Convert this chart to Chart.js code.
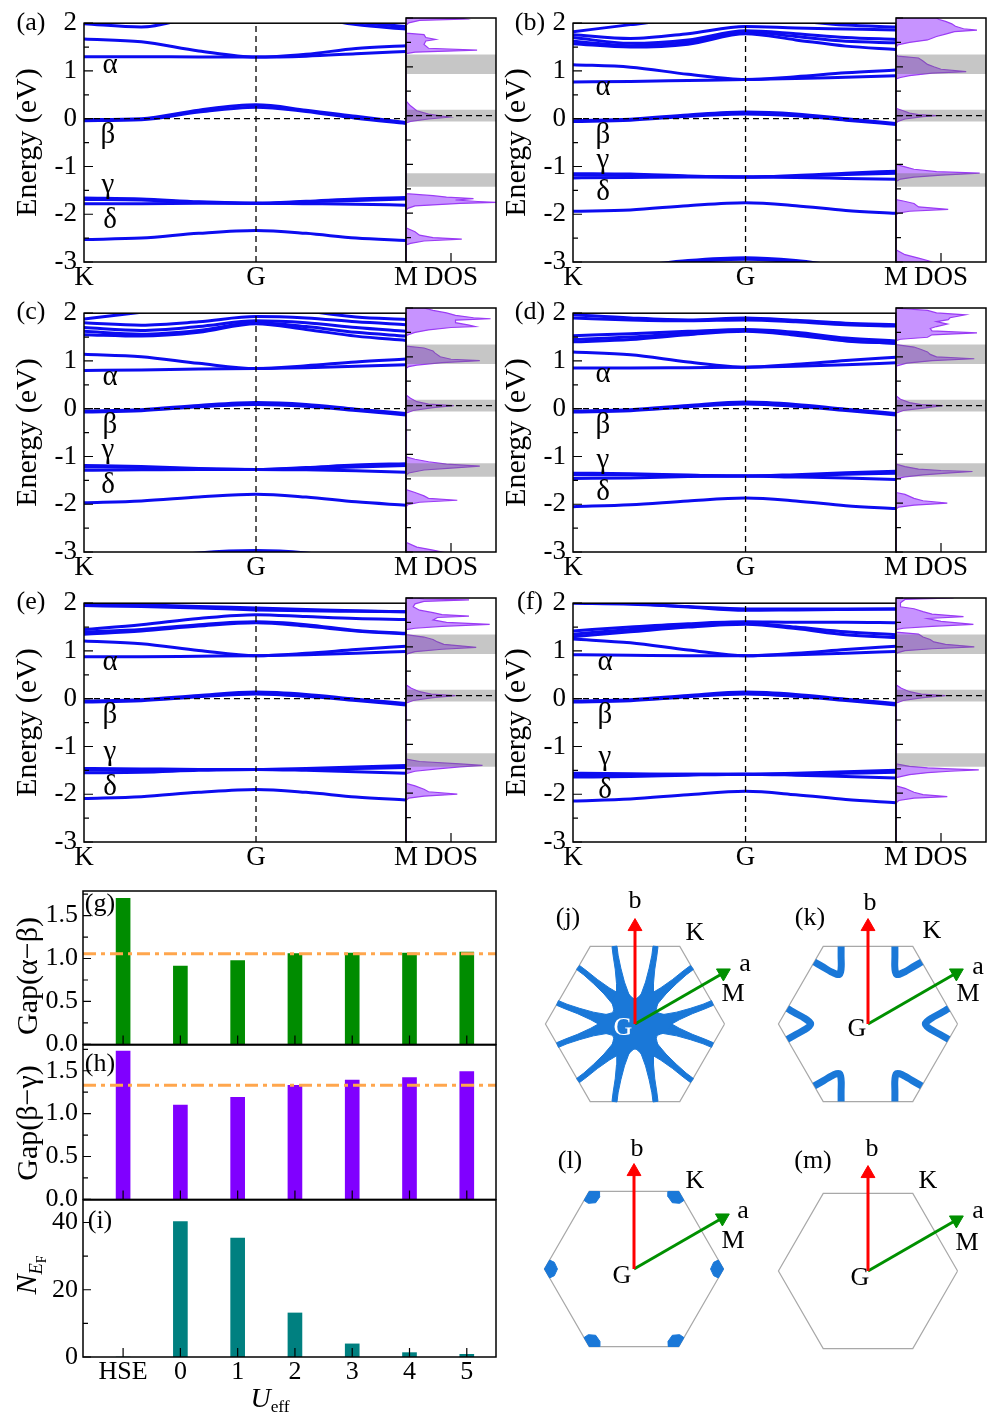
<!DOCTYPE html>
<html>
<head>
<meta charset="utf-8">
<title>Bands, DOS, gaps and Fermi surfaces vs U_eff</title>
<script src="https://cdn.jsdelivr.net/npm/chart.js@4.4.1/dist/chart.umd.min.js"></script>
<style>
  body { margin: 0; width: 996px; height: 1422px; position: relative; overflow: hidden; background: #fff;
         font-family: "Liberation Serif", "Times New Roman", serif; color: #000; }
  canvas { position: absolute; }
  .t { position: absolute; transform: translate(-50%, -50%); line-height: 1; white-space: nowrap; }
  .rot { transform: translate(-50%, -50%) rotate(-90deg); }
  sub { font-size: 0.62em; vertical-align: -0.3em; line-height: 0; }
</style>
</head>
<body>
<script>
// ---------- band structure data (eV) along K - G - M ----------
const kPath = [0, 0.333, 0.667, 1, 1.291, 1.581, 1.872]
const kTicks = [0, 1, 1.872]
const kLabels = ['K', 'G', 'M']
const eTicks = [-3, -2, -1, 0, 1, 2]
const eMinor = [-2.5, -1.5, -0.5, 0.5, 1.5]

const bandsA = [
  [1.99, 1.92, 2.15, 2.3, 2.15, 1.97, 1.88],
  [2.02, 2.05, 2.2, 2.35, 2.2, 2.02, 1.93],
  [1.67, 1.61, 1.42, 1.29, 1.35, 1.47, 1.53],
  [1.30, 1.30, 1.29, 1.29, 1.31, 1.36, 1.41],
  [-0.02, 0.0, 0.18, 0.29, 0.18, 0.05, -0.08],
  [-0.04, -0.02, 0.14, 0.24, 0.15, 0.01, -0.10],
  [-1.66, -1.68, -1.74, -1.77, -1.73, -1.68, -1.65],
  [-1.69, -1.70, -1.75, -1.77, -1.74, -1.71, -1.68],
  [-1.78, -1.78, -1.77, -1.77, -1.78, -1.79, -1.81],
  [-2.53, -2.50, -2.40, -2.34, -2.40, -2.50, -2.55]
]
const bandsB = [
  [1.82, 1.97, 2.1, 2.15, 2.05, 1.96, 1.92],
  [1.76, 1.68, 1.78, 1.93, 1.90, 1.88, 1.86],
  [1.70, 1.58, 1.65, 1.84, 1.78, 1.70, 1.66],
  [1.62, 1.53, 1.60, 1.82, 1.72, 1.62, 1.59],
  [1.57, 1.50, 1.56, 1.78, 1.65, 1.52, 1.45],
  [1.13, 1.08, 0.93, 0.82, 0.88, 0.96, 1.02],
  [0.77, 0.78, 0.80, 0.82, 0.84, 0.87, 0.90],
  [-0.04, -0.01, 0.08, 0.14, 0.10, 0.0, -0.10],
  [-0.06, -0.03, 0.05, 0.10, 0.06, -0.03, -0.12],
  [-1.15, -1.16, -1.20, -1.22, -1.19, -1.14, -1.10],
  [-1.18, -1.18, -1.21, -1.22, -1.20, -1.17, -1.14],
  [-1.24, -1.23, -1.22, -1.22, -1.23, -1.25, -1.27],
  [-1.94, -1.91, -1.82, -1.76, -1.82, -1.92, -1.98],
  [-3.2, -3.1, -2.97, -2.91, -2.97, -3.1, -3.2],
  [-3.25, -3.12, -3.0, -2.94, -3.0, -3.12, -3.25]
]
const bandsC = [
  [1.88, 2.02, 2.15, 2.2, 2.05, 1.92, 1.87],
  [1.80, 1.75, 1.82, 1.93, 1.90, 1.82, 1.76],
  [1.70, 1.64, 1.72, 1.84, 1.80, 1.70, 1.62],
  [1.62, 1.56, 1.64, 1.80, 1.72, 1.60, 1.52],
  [1.55, 1.52, 1.60, 1.78, 1.66, 1.52, 1.43],
  [1.14, 1.09, 0.95, 0.84, 0.90, 0.98, 1.04],
  [0.80, 0.81, 0.83, 0.84, 0.86, 0.89, 0.92],
  [-0.05, -0.02, 0.07, 0.13, 0.09, -0.01, -0.10],
  [-0.07, -0.04, 0.04, 0.09, 0.05, -0.04, -0.13],
  [-1.19, -1.21, -1.25, -1.27, -1.23, -1.18, -1.15],
  [-1.22, -1.23, -1.26, -1.27, -1.25, -1.22, -1.19],
  [-1.29, -1.28, -1.27, -1.27, -1.28, -1.30, -1.33],
  [-1.97, -1.93, -1.85, -1.79, -1.85, -1.95, -2.02],
  [-3.3, -3.15, -3.02, -2.97, -3.02, -3.15, -3.3]
]
const bandsD = [
  [1.97, 1.90, 1.86, 1.90, 1.85, 1.79, 1.76],
  [1.90, 1.86, 1.84, 1.86, 1.82, 1.76, 1.73],
  [1.53, 1.57, 1.62, 1.66, 1.60, 1.48, 1.42],
  [1.45, 1.50, 1.58, 1.64, 1.56, 1.43, 1.37],
  [1.40, 1.45, 1.55, 1.62, 1.54, 1.42, 1.37],
  [1.19, 1.13, 0.98, 0.87, 0.93, 1.01, 1.08],
  [0.85, 0.85, 0.86, 0.87, 0.89, 0.92, 0.96],
  [-0.05, -0.02, 0.07, 0.14, 0.09, -0.01, -0.10],
  [-0.07, -0.04, 0.04, 0.10, 0.05, -0.04, -0.13],
  [-1.35, -1.36, -1.39, -1.41, -1.38, -1.34, -1.31],
  [-1.38, -1.38, -1.40, -1.41, -1.40, -1.37, -1.35],
  [-1.46, -1.45, -1.42, -1.41, -1.43, -1.45, -1.48],
  [-2.05, -2.01, -1.93, -1.87, -1.93, -2.03, -2.09]
]
const bandsE = [
  [1.99, 1.97, 1.93, 1.90, 1.87, 1.84, 1.82],
  [1.95, 1.93, 1.90, 1.86, 1.84, 1.83, 1.82],
  [1.45, 1.55, 1.68, 1.76, 1.72, 1.68, 1.66],
  [1.40, 1.45, 1.55, 1.61, 1.55, 1.43, 1.37],
  [1.35, 1.42, 1.52, 1.59, 1.52, 1.42, 1.36],
  [1.21, 1.15, 1.01, 0.90, 0.95, 1.03, 1.10],
  [0.88, 0.88, 0.89, 0.90, 0.92, 0.95, 0.99],
  [-0.05, -0.02, 0.07, 0.14, 0.09, -0.01, -0.10],
  [-0.07, -0.04, 0.04, 0.10, 0.05, -0.04, -0.13],
  [-1.46, -1.47, -1.48, -1.48, -1.46, -1.43, -1.40],
  [-1.49, -1.49, -1.48, -1.48, -1.48, -1.46, -1.44],
  [-1.55, -1.54, -1.50, -1.48, -1.50, -1.53, -1.56],
  [-2.09, -2.05, -1.96, -1.90, -1.96, -2.06, -2.12]
]
const bandsF = [
  [2.0, 1.98, 1.93, 1.88, 1.88, 1.88, 1.88],
  [2.05, 2.0, 1.92, 1.85, 1.86, 1.87, 1.88],
  [1.42, 1.50, 1.57, 1.61, 1.60, 1.60, 1.59],
  [1.35, 1.45, 1.53, 1.58, 1.50, 1.40, 1.34],
  [1.30, 1.40, 1.50, 1.56, 1.47, 1.34, 1.28],
  [1.25, 1.17, 1.02, 0.90, 0.95, 1.03, 1.10],
  [0.92, 0.91, 0.90, 0.90, 0.92, 0.95, 0.99],
  [-0.05, -0.02, 0.07, 0.14, 0.09, -0.01, -0.10],
  [-0.07, -0.04, 0.04, 0.10, 0.05, -0.04, -0.13],
  [-1.56, -1.57, -1.58, -1.58, -1.56, -1.53, -1.50],
  [-1.59, -1.59, -1.58, -1.58, -1.58, -1.56, -1.54],
  [-1.64, -1.63, -1.60, -1.58, -1.60, -1.63, -1.66],
  [-2.14, -2.10, -2.01, -1.94, -2.01, -2.11, -2.18]
]

// ---------- DOS: [energy, DOS as fraction of panel width] ----------
const dosA = [[-3,0],[-2.65,0],[-2.62,0.05],[-2.57,0.2],[-2.53,0.62],[-2.5,0.3],[-2.45,0.15],[-2.38,0.1],[-2.3,0],
  [-1.95,0],[-1.9,0.02],[-1.85,0.1],[-1.8,0.6],[-1.78,1.0],[-1.76,0.8],[-1.73,0.55],[-1.7,0.75],[-1.67,0.45],[-1.64,0.3],[-1.6,0],
  [-0.15,0],[-0.12,0.05],[-0.07,0.25],[-0.03,0.48],[0.03,0.25],[0.1,0.12],[0.2,0.05],[0.3,0],
  [1.27,0],[1.3,0.1],[1.34,0.79],[1.38,0.25],[1.46,0.2],[1.53,0.22],[1.56,0.33],[1.6,0.22],[1.66,0.2],[1.69,0],
  [1.85,0],[1.9,0.03],[1.95,0.15],[1.98,0.66],[2.0,0.6],[2.0,0]]
const dosB = [[-3,0],[-3,0.4],[-2.97,0.35],[-2.92,0.25],[-2.85,0.1],[-2.75,0],
  [-2.05,0],[-2.0,0.02],[-1.96,0.15],[-1.92,0.58],[-1.87,0.25],[-1.8,0.2],[-1.75,0.08],[-1.72,0],
  [-1.35,0],[-1.3,0.05],[-1.26,0.2],[-1.22,0.5],[-1.18,0.93],[-1.15,0.45],[-1.1,0.2],[-1.05,0.1],[-1.0,0],
  [-0.15,0],[-0.12,0.02],[-0.07,0.1],[-0.02,0.3],[0,0.45],[0.02,0.25],[0.05,0.15],[0.1,0.08],[0.15,0],
  [0.75,0],[0.78,0.05],[0.82,0.15],[0.87,0.4],[0.9,0.78],[0.95,0.5],[1.0,0.42],[1.05,0.35],[1.12,0.3],[1.18,0.25],[1.22,0.02],[1.24,0],
  [1.4,0],[1.45,0.02],[1.5,0.15],[1.55,0.35],[1.62,0.45],[1.67,0.55],[1.72,0.65],[1.75,0.9],[1.78,0.75],[1.83,0.66],
  [1.88,0.62],[1.93,0.55],[1.97,0.48],[2.0,0.45],[2.0,0]]
const dosC = [[-3,0],[-3,0.4],[-2.96,0.3],[-2.9,0.12],[-2.8,0],
  [-2.08,0],[-2.03,0.02],[-1.98,0.15],[-1.94,0.57],[-1.9,0.25],[-1.85,0.2],[-1.78,0.1],[-1.72,0],
  [-1.42,0],[-1.38,0.03],[-1.32,0.2],[-1.28,0.5],[-1.24,0.82],[-1.2,0.45],[-1.15,0.25],[-1.1,0.1],[-1.05,0],
  [-0.18,0],[-0.15,0.01],[-0.1,0.08],[-0.04,0.3],[0,0.53],[0.03,0.25],[0.08,0.12],[0.15,0.05],[0.22,0],
  [0.76,0],[0.8,0.03],[0.83,0.12],[0.88,0.4],[0.92,0.82],[0.95,0.5],[1.0,0.38],[1.08,0.32],[1.12,0.3],[1.18,0.2],[1.22,0],
  [1.42,0],[1.45,0.02],[1.5,0.1],[1.55,0.25],[1.6,0.5],[1.62,0.77],[1.65,0.7],[1.7,0.55],[1.75,0.55],[1.78,0.94],
  [1.8,0.75],[1.85,0.55],[1.9,0.45],[1.95,0.3],[2.0,0.2],[2.0,0]]
const dosD = [[-3,0],[-2.12,0],[-2.08,0.03],[-2.04,0.2],[-2.0,0.57],[-1.95,0.3],[-1.9,0.2],[-1.82,0.1],[-1.78,0],
  [-1.5,0],[-1.46,0.1],[-1.42,0.3],[-1.38,0.6],[-1.35,0.85],[-1.33,0.5],[-1.3,0.25],[-1.25,0.1],[-1.2,0],
  [-0.18,0],[-0.15,0.01],[-0.1,0.08],[-0.05,0.3],[0,0.52],[0.02,0.28],[0.06,0.15],[0.13,0.05],[0.2,0],
  [0.8,0],[0.82,0.02],[0.87,0.12],[0.92,0.4],[0.96,0.87],[1.0,0.45],[1.05,0.38],[1.1,0.35],[1.15,0.28],[1.2,0.2],[1.25,0],
  [1.33,0],[1.36,0.05],[1.4,0.35],[1.45,0.4],[1.49,0.9],[1.53,0.4],[1.58,0.38],[1.62,0.45],[1.67,0.57],[1.72,0.45],
  [1.76,0.58],[1.8,0.6],[1.86,0.77],[1.9,0.45],[1.95,0.35],[1.99,0.05],[2.0,0]]
const dosE = [[-3,0],[-2.15,0],[-2.1,0.03],[-2.06,0.2],[-2.02,0.57],[-1.97,0.25],[-1.92,0.2],[-1.85,0.1],[-1.8,0],
  [-1.6,0],[-1.55,0.1],[-1.5,0.35],[-1.46,0.6],[-1.43,0.85],[-1.4,0.6],[-1.35,0.15],[-1.3,0],
  [-0.18,0],[-0.15,0.01],[-0.1,0.08],[-0.04,0.3],[0,0.55],[0.03,0.28],[0.08,0.15],[0.15,0.06],[0.22,0],
  [0.84,0],[0.86,0.02],[0.9,0.1],[0.95,0.4],[0.99,0.78],[1.02,0.6],[1.05,0.42],[1.1,0.35],[1.15,0.3],[1.2,0.2],[1.25,0],
  [1.35,0],[1.38,0.1],[1.42,0.4],[1.46,0.93],[1.5,0.45],[1.55,0.3],[1.6,0.35],[1.63,0.7],[1.66,0.4],[1.7,0.3],
  [1.75,0.15],[1.82,0.08],[1.88,0.1],[1.93,0.2],[1.96,0.7],[1.98,0.2],[2.0,0.1],[2.0,0]]
const dosF = [[-3,0],[-2.2,0],[-2.15,0.03],[-2.1,0.2],[-2.07,0.57],[-2.03,0.3],[-1.98,0.2],[-1.9,0.1],[-1.85,0],
  [-1.68,0],[-1.62,0.15],[-1.58,0.35],[-1.55,0.6],[-1.52,0.92],[-1.5,0.6],[-1.48,0.35],[-1.45,0.15],[-1.4,0],
  [-0.18,0],[-0.15,0.01],[-0.1,0.08],[-0.04,0.3],[0,0.55],[0.03,0.28],[0.08,0.15],[0.15,0.06],[0.22,0],
  [0.85,0],[0.88,0.02],[0.92,0.1],[0.96,0.4],[1.0,0.87],[1.05,0.55],[1.1,0.42],[1.15,0.38],[1.2,0.3],[1.26,0.25],[1.3,0],
  [1.35,0],[1.38,0.08],[1.42,0.4],[1.46,0.86],[1.52,0.5],[1.58,0.35],[1.62,0.75],[1.67,0.4],[1.72,0.3],[1.78,0.2],
  [1.82,0.05],[1.9,0.05],[1.97,0.1],[2.0,0.64],[2.0,0]]
// grey energy windows in the DOS panels [bottom, top]
const dosBoxes = [[0.85, 1.25], [-0.12, 0.12], [-1.46, -1.18]]

// ---------- gaps and N(EF) vs U_eff ----------
const uLabels = ['HSE', '0', '1', '2', '3', '4', '5']
const uPos = [-1, 0, 1, 2, 3, 4, 5]
const gapAlphaBeta = [1.70, 0.913, 0.976, 1.056, 1.063, 1.063, 1.075]
const gapBetaGamma = [1.73, 1.10, 1.19, 1.33, 1.39, 1.42, 1.49]
const nEF = [0, 40.3, 35.4, 13.1, 3.9, 1.3, 0.8]
const refAlphaBeta = 1.056
const refBetaGamma = 1.33

// ---------- Brillouin zone (unit = K distance) ----------
const hexX = [1, 0.5, -0.5, -1, -0.5, 0.5, 1]
const hexY = [0, 0.866, 0.866, 0, -0.866, -0.866, 0]
const arrowB = [0, 1.088]
const arrowA = [0.987, 0.57]
const cornerAngles = [0, 60, 120, 180, 240, 300]
// (j) one arm next to the K corner at 0 deg (centre line + half width), and the core outline
const jArmX = [0.20, 0.34, 0.48, 0.63, 0.77, 0.865]
const jArmY = [0.0, 0.04, 0.09, 0.145, 0.195, 0.235]
const jArmW = [0.10, 0.07, 0.045, 0.032, 0.028, 0.028]
const jCoreR = [0.36, 0.40, 0.36, 0.28]
const jCoreA = [-15, 0, 15, 30]
// (k) pocket curve around the K corner at 0 deg
const kArcX = [0.90, 0.80, 0.71, 0.655, 0.64, 0.655, 0.71, 0.80, 0.90]
const kArcY = [0.173, 0.115, 0.065, 0.025, 0, -0.025, -0.065, -0.115, -0.173]
// (l) small pocket inside the K corner at 0 deg
const lCapX = [1, 0.942, 0.89, 0.855, 0.89, 0.942, 1]
const lCapY = [0, 0.1, 0.075, 0, -0.075, -0.1, 0]

const bandBlue = '#0c0cf0'
const dosFill = 'rgba(165, 80, 255, 0.62)'
const dosLine = '#9b3cf5'
const boxGrey = 'rgba(105, 105, 105, 0.38)'
const refOrange = '#ffa64d'
const fsBlue = '#1a78d8'

Chart.defaults.font.family = '"Liberation Serif", "Times New Roman", serif'
Chart.defaults.color = '#000'
Chart.defaults.animation = false
Chart.defaults.events = []
Chart.defaults.plugins.legend.display = false
Chart.defaults.plugins.tooltip.enabled = false
Chart.defaults.elements.point.radius = 0
Chart.defaults.elements.point.hoverRadius = 0

function addCanvas(left, top, w, h) {
  const c = document.createElement('canvas')
  c.width = w
  c.height = h
  c.style.left = left + 'px'
  c.style.top = top + 'px'
  c.style.width = w + 'px'
  c.style.height = h + 'px'
  document.body.appendChild(c)
  return c
}

function label(html, x, y, size, cls = '', color = '#000') {
  const d = document.createElement('div')
  d.className = 't ' + cls
  d.innerHTML = html
  d.style.left = x + 'px'
  d.style.top = y + 'px'
  d.style.fontSize = size + 'px'
  d.style.color = color
  document.body.appendChild(d)
}

// inward tick marks + box around the plot area
function frameTicks(t) {
  return {
    id: 'frameTicks',
    afterDatasetsDraw(chart) {
      const { ctx, chartArea: a, scales } = chart
      ctx.save()
      ctx.strokeStyle = '#000'
      ctx.lineWidth = 1.2
      ctx.beginPath()
      ;(t.y || []).forEach(([v, len]) => {
        const y = scales.y.getPixelForValue(v)
        ctx.moveTo(a.left, y)
        ctx.lineTo(a.left + len, y)
      })
      ;(t.x || []).forEach(([v, len]) => {
        const x = scales.x.getPixelForValue(v)
        ctx.moveTo(x, a.bottom)
        ctx.lineTo(x, a.bottom - len)
      })
      ctx.stroke()
      ctx.lineWidth = 1.5
      ctx.strokeRect(a.left, a.top, a.right - a.left, a.bottom - a.top)
      ctx.restore()
    }
  }
}

const noGrid = { display: false, drawTicks: false }
const noBorder = { display: false }

function dashed(points) {
  return { data: points, showLine: true, borderColor: '#000', borderWidth: 1.3, borderDash: [6, 4], order: 0 }
}

function bandChart(p) {
  const w = p.right - p.left
  const kM = kPath[kPath.length - 1]
  const c = addCanvas(p.left - 84, p.top - 18, 84 + w + 20, 298)
  const sets = p.bands.map(b => ({
    data: kPath.map((x, i) => ({ x, y: b[i] })),
    showLine: true,
    borderColor: bandBlue,
    borderWidth: 3,
    cubicInterpolationMode: 'monotone',
    order: 1
  }))
  sets.push(dashed([{ x: 0, y: 0 }, { x: kM, y: 0 }]))
  sets.push(dashed([{ x: 1, y: -3 }, { x: 1, y: 2 }]))

  new Chart(c, {
    type: 'scatter',
    data: { datasets: sets },
    options: {
      responsive: false,
      layout: { padding: { top: 18, right: 20, left: 0, bottom: 0 } },
      scales: {
        x: {
          type: 'linear', min: 0, max: kM,
          afterBuildTicks: s => { s.ticks = kTicks.map(v => ({ value: v })) },
          afterFit: s => { s.height = 36 },
          ticks: { callback: (v, i) => kLabels[i], font: { size: 27 }, padding: 0, autoSkip: false, maxRotation: 0 },
          grid: noGrid, border: noBorder
        },
        y: {
          min: -3, max: 2,
          afterBuildTicks: s => { s.ticks = eTicks.map(v => ({ value: v })) },
          afterFit: s => { s.width = 84 },
          ticks: { callback: v => String(v), font: { size: 27 }, padding: 7 },
          grid: noGrid, border: noBorder,
          title: { display: true, text: 'Energy (eV)', font: { size: 30 }, padding: { top: 10, bottom: 0 } }
        }
      }
    },
    plugins: [frameTicks({ y: [...eTicks.map(v => [v, 9]), ...eMinor.map(v => [v, 5])] })]
  })
}

function dosChart(p) {
  const w = p.dosRight - p.right
  const c = addCanvas(p.right - 20, p.top - 18, w + 40, 298)
  const sets = dosBoxes.map(([lo, hi]) => ({
    data: [{ x: 0, y: lo }, { x: 1, y: lo }, { x: 1, y: hi }, { x: 0, y: hi }],
    showLine: true, fill: 'shape', backgroundColor: boxGrey, borderColor: 'rgba(0,0,0,0)', order: 1
  }))
  sets.push({
    data: p.dos.map(([e, d]) => ({ x: d, y: e })),
    showLine: true, fill: 'shape', backgroundColor: dosFill, borderColor: dosLine, borderWidth: 1.2, order: 2
  })
  sets.push(dashed([{ x: 0, y: 0 }, { x: 1, y: 0 }]))

  new Chart(c, {
    type: 'scatter',
    data: { datasets: sets },
    options: {
      responsive: false,
      layout: { padding: { top: 18, right: 20, left: 20, bottom: 0 } },
      scales: {
        x: {
          type: 'linear', min: 0, max: 1,
          afterBuildTicks: s => { s.ticks = [{ value: 0.5 }] },
          afterFit: s => { s.height = 36 },
          ticks: { callback: () => 'DOS', font: { size: 27 }, padding: 0, autoSkip: false, maxRotation: 0 },
          grid: noGrid, border: noBorder
        },
        y: { display: false, min: -3, max: 2 }
      }
    },
    plugins: [frameTicks({ y: [...eTicks.map(v => [v, 7]), ...eMinor.map(v => [v, 5])], x: [[0.5, 9]] })]
  })
}

function barChart(o) {
  const padT = 22
  const xH = o.showX ? 36 : 0
  const padB = o.showX ? 0 : 20
  const c = addCanvas(0, o.top - padT, 510, padT + (o.bottom - o.top) + xH + padB)
  const sets = [{
    data: uPos.map((x, i) => ({ x, y: o.values[i] })),
    backgroundColor: o.color, barThickness: 14, order: 1
  }]
  if (o.ref != null) {
    sets.push({
      type: 'line', data: [{ x: -1.7, y: o.ref }, { x: 5.51, y: o.ref }],
      borderColor: refOrange, borderWidth: 3, borderDash: [13, 5, 4, 5], pointRadius: 0, order: 0
    })
  }
  const xScale = {
    type: 'linear', offset: false, min: -1.7, max: 5.51, display: o.showX,
    grid: noGrid, border: noBorder
  }
  if (o.showX) {
    xScale.afterBuildTicks = s => { s.ticks = uPos.map(v => ({ value: v })) }
    xScale.afterFit = s => { s.height = xH }
    xScale.ticks = { callback: (v, i) => uLabels[i], font: { size: 26 }, padding: 0, autoSkip: false, maxRotation: 0 }
  }
  new Chart(c, {
    type: 'bar',
    data: { datasets: sets },
    options: {
      responsive: false,
      layout: { padding: { top: padT, right: 14, bottom: padB, left: 0 } },
      scales: {
        x: xScale,
        y: {
          min: 0, max: o.yMax,
          afterBuildTicks: s => { s.ticks = o.major.map(v => ({ value: v })) },
          afterFit: s => { s.width = 83 },
          ticks: { callback: o.fmt, font: { size: 26 }, padding: 5 },
          grid: noGrid, border: noBorder
        }
      }
    },
    plugins: [frameTicks({
      y: [...o.major.map(v => [v, 8]), ...o.minor.map(v => [v, 5])],
      x: uPos.map(v => [v, 9])
    })]
  })
}

function turn(xs, ys, deg) {
  const r = deg * Math.PI / 180
  const c = Math.cos(r), s = Math.sin(r)
  return xs.map((x, i) => ({ x: x * c - ys[i] * s, y: x * s + ys[i] * c }))
}

// outline of a band of half width hw around a centre line
function ribbon(xs, ys, hw) {
  const left = [], right = []
  xs.forEach((x, i) => {
    const i0 = Math.max(i - 1, 0), i1 = Math.min(i + 1, xs.length - 1)
    const dx = xs[i1] - xs[i0], dy = ys[i1] - ys[i0], L = Math.hypot(dx, dy)
    const nx = -dy / L, ny = dx / L
    left.push([x + nx * hw[i], ys[i] + ny * hw[i]])
    right.push([x - nx * hw[i], ys[i] - ny * hw[i]])
  })
  const pts = [...left, ...right.reverse()]
  pts.push(pts[0])
  return { x: pts.map(p => p[0]), y: pts.map(p => p[1]) }
}

function arrow(tip, color, rotation) {
  return {
    data: [{ x: 0, y: 0 }, { x: tip[0], y: tip[1] }],
    showLine: true, borderColor: color, borderWidth: 3,
    pointRadius: [0, 8], pointStyle: 'triangle', pointRotation: rotation,
    pointBackgroundColor: color, pointBorderColor: color, pointBorderWidth: 1, order: 0
  }
}

function hexChart(cx, cy, pieces) {
  const scale = 96.5
  const lim = 125 / scale
  const c = addCanvas(cx - 125, cy - 125, 250, 250)
  const sets = [
    { data: hexX.map((x, i) => ({ x, y: hexY[i] })), showLine: true, borderColor: '#a8a8a8', borderWidth: 1.2, order: 3 },
    ...pieces,
    arrow(arrowB, '#ff0000', 0),
    arrow(arrowA, '#009000', 60)
  ]
  new Chart(c, {
    type: 'scatter',
    data: { datasets: sets },
    options: {
      responsive: false,
      scales: {
        x: { display: false, min: -lim, max: lim },
        y: { display: false, min: -lim, max: lim }
      }
    }
  })
}

// ---------- panels (a)-(f) ----------
const panels = [
  { tag: '(a)', tagAt: [31, 22], left: 84, right: 406, dosRight: 496, top: 18, bands: bandsA, dos: dosA,
    greek: [[110, 63], [108, 133], [108, 183], [110, 218]] },
  { tag: '(b)', tagAt: [530, 22], left: 573, right: 896, dosRight: 986, top: 18, bands: bandsB, dos: dosB,
    greek: [[603, 85], [603, 133], [603, 158], [603, 190]] },
  { tag: '(c)', tagAt: [31, 311], left: 84, right: 406, dosRight: 496, top: 308, bands: bandsC, dos: dosC,
    greek: [[110, 375], [110, 423], [108, 448], [108, 483]] },
  { tag: '(d)', tagAt: [530, 311], left: 573, right: 896, dosRight: 986, top: 308, bands: bandsD, dos: dosD,
    greek: [[603, 372], [603, 423], [603, 458], [603, 490]] },
  { tag: '(e)', tagAt: [31, 601], left: 84, right: 406, dosRight: 496, top: 598, bands: bandsE, dos: dosE,
    greek: [[110, 660], [110, 713], [110, 750], [110, 785]] },
  { tag: '(f)', tagAt: [530, 601], left: 573, right: 896, dosRight: 986, top: 598, bands: bandsF, dos: dosF,
    greek: [[605, 660], [605, 713], [605, 755], [605, 788]] }
]
const greekNames = ['α', 'β', 'γ', 'δ']

panels.forEach(p => {
  bandChart(p)
  dosChart(p)
})

// ---------- panels (g)-(i) ----------
const oneDecimal = v => v.toFixed(1)
barChart({ top: 891, bottom: 1045, yMax: 1.786, values: gapAlphaBeta, color: '#008c00', ref: refAlphaBeta,
  major: [0, 0.5, 1, 1.5], minor: [0.25, 0.75, 1.25, 1.75], fmt: oneDecimal, showX: false })
barChart({ top: 1045, bottom: 1200, yMax: 1.8, values: gapBetaGamma, color: '#8000ff', ref: refBetaGamma,
  major: [0, 0.5, 1, 1.5], minor: [0.25, 0.75, 1.25, 1.75], fmt: oneDecimal, showX: false })
barChart({ top: 1200, bottom: 1357, yMax: 46.7, values: nEF, color: '#008080', ref: null,
  major: [0, 20, 40], minor: [10, 30], fmt: v => String(v), showX: true })

// ---------- panels (j)-(m) ----------
const fsLine = { showLine: true, borderColor: fsBlue, backgroundColor: fsBlue, order: 1 }

const jCore = []
cornerAngles.forEach(a0 => jCoreA.forEach((da, i) => {
  const t = (a0 + da) * Math.PI / 180
  jCore.push({ x: jCoreR[i] * Math.cos(t), y: jCoreR[i] * Math.sin(t) })
}))
jCore.push(jCore[0])
const jPieces = [{ ...fsLine, data: jCore, fill: 'shape', borderWidth: 1, tension: 0.35 }]
cornerAngles.forEach(a0 => [1, -1].forEach(sgn => {
  const arm = ribbon(jArmX, jArmY.map(y => sgn * y), jArmW)
  jPieces.push({ ...fsLine, data: turn(arm.x, arm.y, a0), fill: 'shape', borderWidth: 1 })
}))

const kPieces = cornerAngles.map(a0 => ({ ...fsLine, data: turn(kArcX, kArcY, a0), borderWidth: 7, tension: 0.4 }))
const lPieces = cornerAngles.map(a0 => ({ ...fsLine, data: turn(lCapX, lCapY, a0), fill: 'shape', borderWidth: 1 }))

hexChart(635, 1024, jPieces)
hexChart(868, 1024, kPieces)
hexChart(634, 1269, lPieces)
hexChart(868, 1271, [])

// ---------- text ----------
panels.forEach(p => {
  label(p.tag, p.tagAt[0], p.tagAt[1], 26)
  p.greek.forEach(([x, y], i) => label(greekNames[i], x, y, 29))
})

label('(g)', 100, 903, 26)
label('(h)', 100, 1063, 26)
label('(i)', 100, 1220, 26)
label('Gap(α−β)', 27, 976, 30, 'rot')
label('Gap(β−γ)', 27, 1123, 30, 'rot')
label('<i>N</i><sub><i>E</i><sub style="font-size:0.75em">F</sub></sub>', 26, 1275, 30, 'rot')
label('<i>U</i><sub>eff</sub>', 270, 1398, 28)

const bzLabels = [
  { tag: '(j)', at: [568, 917], b: [635, 900], K: [695, 932], a: [745, 963], M: [733, 993], G: [623, 1027], gColor: '#fff' },
  { tag: '(k)', at: [810, 917], b: [870, 902], K: [932, 930], a: [978, 966], M: [968, 993], G: [857, 1028], gColor: '#000' },
  { tag: '(l)', at: [570, 1160], b: [637, 1148], K: [695, 1180], a: [743, 1210], M: [733, 1240], G: [622, 1275], gColor: '#000' },
  { tag: '(m)', at: [813, 1160], b: [872, 1148], K: [928, 1180], a: [978, 1210], M: [967, 1242], G: [860, 1277], gColor: '#000' }
]
bzLabels.forEach(z => {
  label(z.tag, z.at[0], z.at[1], 26)
  label('b', z.b[0], z.b[1], 26)
  label('K', z.K[0], z.K[1], 26)
  label('a', z.a[0], z.a[1], 26)
  label('M', z.M[0], z.M[1], 26)
  label('G', z.G[0], z.G[1], 26, '', z.gColor)
})
</script>
</body>
</html>
